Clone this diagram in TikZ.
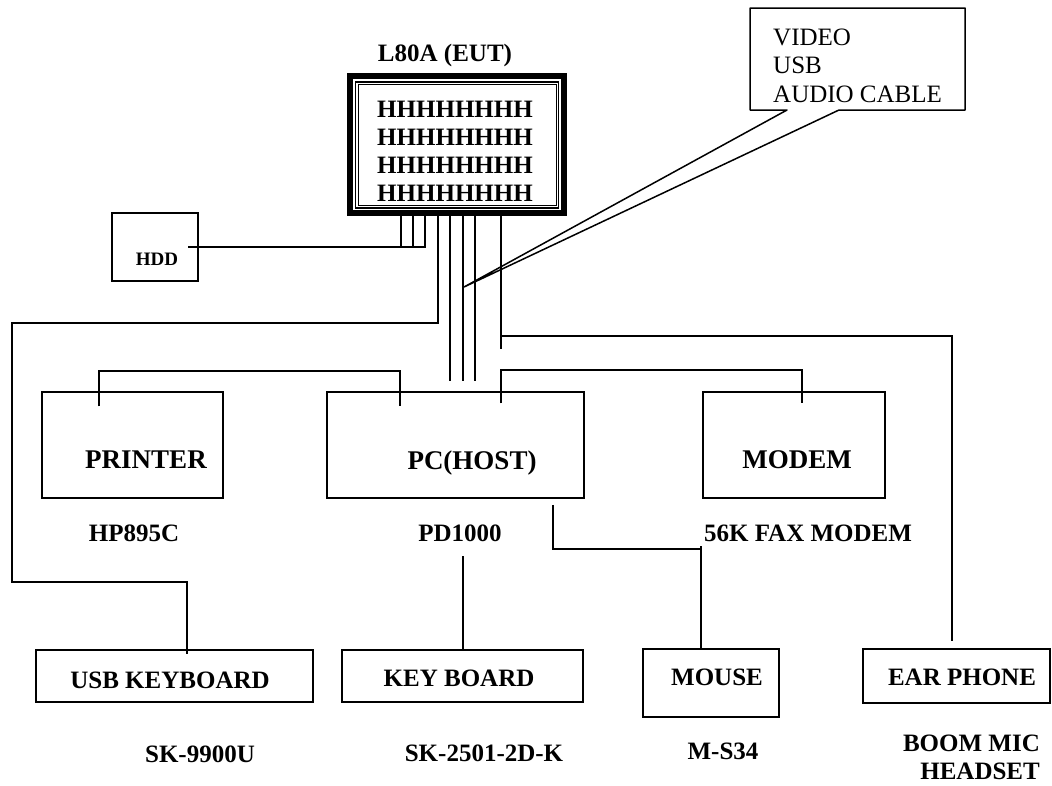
\documentclass[tikz,border=0pt]{standalone}
\usepackage{fontspec}
\setmainfont{Liberation Serif}
\usetikzlibrary{positioning,calc}

\tikzset{
  box/.style={draw, line width=1.5pt, inner sep=0pt},
  cable/.style={line width=1.5pt},
  tag/.style={font=\fontsize{25}{29}\selectfont\bfseries, inner sep=0pt},
  bigtag/.style={font=\fontsize{27}{31}\selectfont\bfseries, inner sep=0pt},
  note/.style={font=\fontsize{25}{29}\selectfont, inner sep=0pt},
}

\begin{document}
\begin{tikzpicture}[x=1pt, y=-1pt]
    \useasboundingbox (0,0) rectangle (1052,785);

    % EUT monitor
    \node[tag] (euttitle) at (445,55) {L80A (EUT)};
    \node[draw, line width=6pt, minimum width=214pt, minimum height=137pt] (eut) at (457,144.5) {};
    \node[draw, line width=1.3pt, minimum width=203pt, minimum height=126pt] (scr) at (457,145) {};
    \node[draw, line width=1pt, minimum width=198pt, minimum height=121pt] (scrin) at (457,145) {};
    \foreach \yy [count=\i] in {109,137,165,193}
        \node[tag] (row\i) at (455,\yy) {HHHHHHHH};

    % cable callout
    \coordinate (tip) at (464,287);
    \draw[cable, line join=round] (750,8) -- (965,8) -- (965,110) -- (839,110) -- (tip) -- (787,110) -- (750,110) -- cycle;
    \foreach \t/\yy [count=\i] in {VIDEO/45, USB/73, AUDIO CABLE/102}
        \node[note, anchor=base west] (note\i) at (773,\yy) {\t};

    % peripherals
    \node[box, minimum width=86pt, minimum height=68pt,
          label={[font=\fontsize{19}{22}\selectfont\bfseries, xshift=2pt, yshift=-12pt]center:HDD}] (hdd) at (155,247) {};
    \node[box, minimum width=181pt, minimum height=106pt,
          label={[bigtag, xshift=13.5pt, yshift=-15pt]center:PRINTER}] (prn) at (132.5,445) {};
    \node[box, minimum width=257pt, minimum height=106pt,
          label={[bigtag, xshift=16.5pt, yshift=-18pt]center:PC(HOST)}] (pc) at (455.5,445) {};
    \node[box, minimum width=182pt, minimum height=106pt,
          label={[bigtag, xshift=3pt, yshift=-15pt]center:MODEM}] (modem) at (794,445) {};
    \node[box, minimum width=277pt, minimum height=52pt,
          label={[tag, xshift=-4.5pt, yshift=-4pt]center:USB KEYBOARD}] (usbkb) at (174.5,676) {};
    \node[box, minimum width=241pt, minimum height=52pt,
          label={[tag, xshift=-3.5pt, yshift=-2pt]center:KEY BOARD}] (kb) at (462.5,676) {};
    \node[box, minimum width=136pt, minimum height=68pt,
          label={[tag, xshift=6pt, yshift=6pt]center:MOUSE}] (mouse) at (711,683) {};
    \node[box, minimum width=187pt, minimum height=54pt,
          label={[tag, xshift=5.5pt, yshift=-1pt]center:EAR PHONE}] (ear) at (956.5,676) {};

    % model names
    \node[tag] (prnmodel) at (134,533) {HP895C};
    \node[tag] (pcmodel) at (460,533) {PD1000};
    \node[tag] (modemmodel) at (808,533) {56K FAX MODEM};
    \node[tag] (usbkbmodel) at (200,754) {SK-9900U};
    \node[tag] (kbmodel) at (484,753) {SK-2501-2D-K};
    \node[tag] (mousemodel) at (723,751) {M-S34};
    \node[tag, anchor=base east] (earmodel1) at (1040,751) {BOOM MIC};
    \node[tag, anchor=base east] (earmodel2) at (1040,779) {HEADSET};

    % cables out of the EUT
    \foreach \x/\p in {401/a,413/b,425/c,438/d,450/e,463/f,475/g,501/h}
        \coordinate (port\p) at (\x,0 |- eut.south);

    \draw[cable] (portc) |- ($(hdd.east)+(-11,0)$);
    \draw[cable] (porta) -- (porta |- hdd.east);
    \draw[cable] (portb) -- (portb |- hdd.east);

    \draw[cable] (portd) |- (12,323) |- (187,582) -- ($(187,0 |- usbkb.north)+(0,5)$);

    \foreach \p in {e,f,g}
        \draw[cable] (port\p) -- ($(port\p |- pc.north)+(0,-10)$);

    \draw[cable] (porth) -- (501,349);
    \draw[cable] (501,336) -| ($(952,0 |- ear.north)+(0,-7)$);

    % cables between the other units
    \draw[cable] ($(99,0 |- prn.north)+(0,15)$) |- (400,371) -- ($(400,0 |- pc.north)+(0,15)$);
    \draw[cable] ($(501,0 |- pc.north)+(0,12)$) |- (802,370) -- ($(802,0 |- modem.north)+(0,12)$);
    \draw[cable] ($(553,0 |- pc.south)+(0,6)$) |- (701,549);
    \draw[cable] (701,546) -- (701,0 |- mouse.north);
    \draw[cable] (463,556) -- (463,0 |- kb.north);
\end{tikzpicture}
\end{document}
